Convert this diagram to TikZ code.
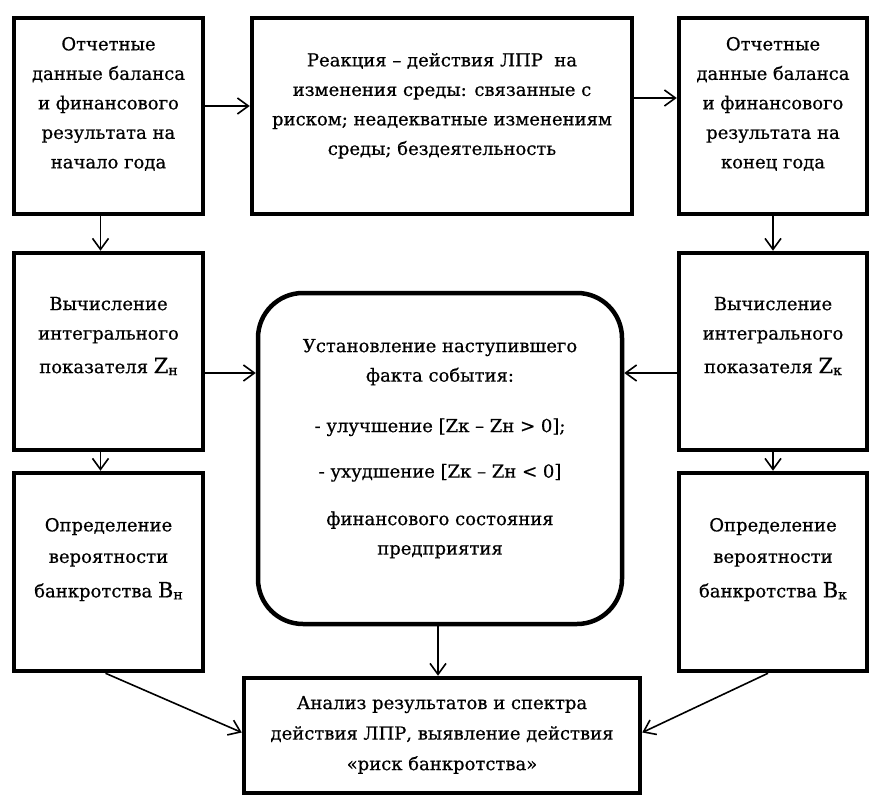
\documentclass[tikz,border=0pt]{standalone}
\usepackage{fontspec}
\setmainfont{DejaVu Serif}[FakeBold=0.6]
\usetikzlibrary{arrows.meta,calc}
\newcommand{\tb}[4]{\begin{minipage}[c][#2][t]{#1}\centering\fontsize{18}{29.5}\selectfont\vspace*{#3}#4\end{minipage}}
\newcommand{\BigL}[2]{{\fontsize{21}{29.5}\selectfont #1}\raisebox{-2pt}{\fontsize{14}{14}\selectfont #2}}
\begin{document}
\begin{tikzpicture}[x=1pt,y=-1pt,
  box/.style={draw, line width=4.5pt, inner sep=0pt},
  rbox/.style={box, rounded corners=45pt},
  arr/.style={line width=1.6pt, -{Straight Barb[length=11pt,width=16pt,line width=1.6pt]}}]
\useasboundingbox (0,0) rectangle (886,805);
\node[box] (TL) at (108.5,116) {\tb{189pt}{196pt}{19pt}{Отчетные\\данные баланса\\и финансового\\результата на\\начало года}};
\node[box] (TM) at (442,116) {\tb{380pt}{196pt}{35pt}{Реакция – действия ЛПР\ \ на\\изменения среды: связанные с\\риском; неадекватные изменениям\\среды; бездеятельность}};
\node[box] (TR) at (773,116) {\tb{188pt}{196pt}{19pt}{Отчетные\\данные баланса\\и финансового\\результата на\\конец года}};
\node[box] (L2) at (108.5,351.5) {\tb{189pt}{197pt}{44pt}{Вычисление\\интегрального\\[4pt]показателя \BigL{Z}{н}}};
\node[box] (R2) at (773,351.5) {\tb{188pt}{197pt}{44pt}{Вычисление\\интегрального\\[4pt]показателя \BigL{Z}{к}}};
\node[rbox] (C) at (440,458.5) {\tb{364pt}{331pt}{46pt}{Установление наступившего\\факта события:\\[21pt]- улучшение [Zк – Zн > 0];\\[16pt]- ухудшение [Zк – Zн < 0]\\[18pt]финансового состояния\\предприятия}};
\node[box] (L3) at (108.5,572) {\tb{189pt}{198pt}{45pt}{Определение\\[2pt]вероятности\\[5pt]банкротства \BigL{B}{н}}};
\node[box] (R3) at (773,572) {\tb{188pt}{198pt}{45pt}{Определение\\[2pt]вероятности\\[5pt]банкротства \BigL{B}{к}}};
\node[box] (B) at (442,735.5) {\tb{396pt}{115pt}{18pt}{Анализ результатов и спектра\\[1pt]действия ЛПР, выявление действия\\[1pt]«риск банкротства»}};
% arrows
\draw[arr] ([yshift=10pt]TL.east) -- ([yshift=10pt]TL.east -| TM.west);
\draw[arr] ([yshift=18pt]TM.east) -- ([yshift=18pt]TM.east -| TR.west);
\draw[arr] ([xshift=-8pt]TL.south) -- ([xshift=-8pt]TL.south |- L2.north);
\draw[arr] ([xshift=-8pt]L2.south) -- ([xshift=-8pt]L2.south |- L3.north);
\draw[arr] (TR.south) -- (TR.south |- R2.north);
\draw[arr] (R2.south) -- (R2.south |- R3.north);
\coordinate (a1) at ([yshift=-21.5pt]L2.east);
\coordinate (a2) at ([yshift=-21.5pt]R2.west);
\draw[arr] (a1) -- (a1 -| C.west);
\draw[arr] (a2) -- (a2 -| C.east);
\draw[arr] ([xshift=-2pt]C.south) -- ([xshift=-2pt]C.south |- B.north);
\draw[arr] ([xshift=-3pt]L3.south) -- ([yshift=3pt]B.west);
\draw[arr] ([xshift=-5pt]R3.south) -- ([yshift=3pt]B.east);
\end{tikzpicture}
\end{document}
